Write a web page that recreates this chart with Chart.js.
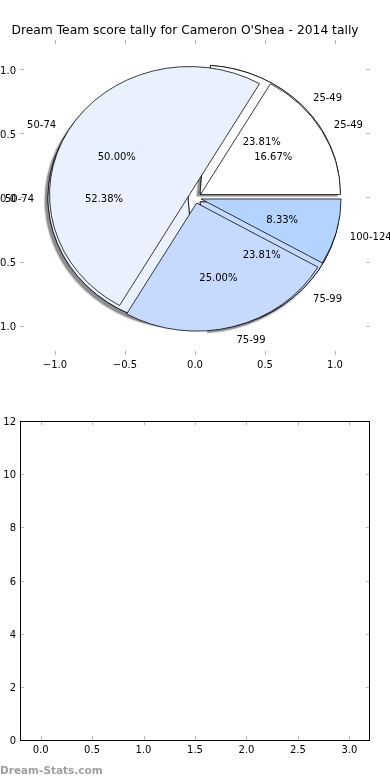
<!DOCTYPE html>
<html><head><meta charset="utf-8">
<script src="https://cdn.jsdelivr.net/npm/chart.js@4.4.1/dist/chart.umd.min.js"></script>
<style>
html,body{margin:0;padding:0;background:#fff;width:390px;height:780px;overflow:hidden}
.layer{position:absolute;left:0;top:0;width:390px;height:390px}
#wm{position:absolute;left:0;top:763px;font:bold 10.5px "DejaVu Sans",sans-serif;line-height:14px;color:#a0a0a0;white-space:nowrap}
</style></head><body>
<div style="position:absolute;left:0;top:0;width:390px;height:390px">
<canvas id="axes1" class="layer" width="390" height="390"></canvas>
<canvas id="pieB" class="layer" width="390" height="390"></canvas>
<canvas id="pieA" class="layer" width="390" height="390"></canvas>
</div>
<div style="position:absolute;left:0;top:390px;width:390px;height:390px">
<canvas id="axes2" class="layer" width="390" height="390"></canvas>
</div>
<div id="wm">Dream-Stats.com</div>
<script>
// ---------- data ----------
const chartTitle = "Dream Team score tally for Cameron O'Shea - 2014 tally";
const categoriesA = ['25-49', '50-74', '75-99', '100-124'];
const valuesA = [2, 6, 3, 1];          // 16.67% 50.00% 25.00% 8.33%
const categoriesB = ['25-49', '50-74', '75-99'];
const valuesB = [5, 11, 5];            // 23.81% 52.38% 23.81%
const pieAxisTicks = [-1.0, -0.5, 0.0, 0.5, 1.0];
const lowerXTicks = [0.0, 0.5, 1.0, 1.5, 2.0, 2.5, 3.0];
const lowerYTicks = [0, 2, 4, 6, 8, 10, 12];

// ---------- styles ----------
const colorFor = {'25-49': '#ffffff', '50-74': '#eaf1fe', '75-99': '#c6d9fe', '100-124': '#b3d4fe'};
const FONT = 'DejaVu Sans';
const TICK_COLOR = '#b5b5b5';
const TEXT_DY = 1.5;
const explodeA = 0.045, explodeB = 0.05;

const fmtSigned = v => (v < 0 ? '\u2212' : '') + Math.abs(v).toFixed(1);

const tickMarks = {
  id: 'tickMarks',
  afterDraw(chart) {
    const {ctx, chartArea: a, scales: {x, y}} = chart;
    ctx.save();
    ctx.strokeStyle = TICK_COLOR; ctx.lineWidth = 1;
    ctx.beginPath();
    x.ticks.forEach(t => {
      const px = Math.round(x.getPixelForValue(t.value)) + 0.5;
      ctx.moveTo(px, a.top); ctx.lineTo(px, a.top + 4);
      ctx.moveTo(px, a.bottom); ctx.lineTo(px, a.bottom - 4);
    });
    y.ticks.forEach(t => {
      const py = Math.round(y.getPixelForValue(t.value)) + 0.5;
      ctx.moveTo(a.left, py); ctx.lineTo(a.left + 4, py);
      ctx.moveTo(a.right, py); ctx.lineTo(a.right - 4, py);
    });
    ctx.stroke();
    ctx.restore();
  }
};
const frame = {
  id: 'frame',
  afterDraw(chart) {
    const {ctx, chartArea: a} = chart;
    ctx.save(); ctx.strokeStyle = '#000'; ctx.lineWidth = 1;
    ctx.strokeRect(Math.round(a.left) + 0.5, Math.round(a.top) + 0.5, Math.round(a.right - a.left) - 1, Math.round(a.bottom - a.top));
    ctx.restore();
  }
};

function axis(min, max, values, fmt, isY, size) {
  return {
    type: 'linear', min, max,
    afterBuildTicks: s => { s.ticks = values.map(v => ({value: v})); },
    afterFit: s => { if (isY) s.width = size; else s.height = size; },
    grid: {display: false, drawTicks: false},
    border: {display: false},
    ticks: {callback: fmt, color: '#000', font: {family: FONT, size: 10}, padding: 4, maxRotation: 0, autoSkip: false,
            labelOffset: isY ? TEXT_DY : 0}
  };
}

// ---------- top axes (frame-less pie axes) ----------
const axes1 = new Chart(document.getElementById('axes1'), {
  type: 'scatter',
  data: {datasets: [{data: []}]},
  options: {
    responsive: false, animation: false, events: [],
    layout: {padding: {right: 20}},
    scales: {
      x: axis(-1.25, 1.25, pieAxisTicks, fmtSigned, false, 35),
      y: axis(-1.23, 1.23, pieAxisTicks, fmtSigned, true, 20)
    },
    plugins: {
      legend: {display: false}, tooltip: {enabled: false},
      title: {display: true, text: chartTitle, color: '#000', font: {family: FONT, size: 12.3, weight: 'normal'}, padding: {top: 23, bottom: 2.2}}
    }
  },
  plugins: [tickMarks]
});

const xs = axes1.scales.x, ys = axes1.scales.y;
const cx = xs.getPixelForValue(0), cy = ys.getPixelForValue(0);
const R = xs.getPixelForValue(1) - cx;
const ky = (cy - ys.getPixelForValue(1)) / R;

// draws the arcs stretched to the axes' aspect, exploded along their mid angle
const pieDraw = {
  id: 'pieDraw',
  beforeDatasetDraw(chart, args, opts) {
    const ctx = chart.ctx, arcs = args.meta.data;
    const passes = opts.shadow ? ['shadow', 'fill'] : ['fill'];
    for (const pass of passes) {
      for (const arc of arcs) {
        const mid = (arc.startAngle + arc.endAngle) / 2;
        const d = opts.explode * arc.outerRadius;
        ctx.save();
        ctx.translate(arc.x, arc.y); ctx.scale(1, opts.ky); ctx.translate(-arc.x, -arc.y);
        ctx.translate(Math.cos(mid) * d, Math.sin(mid) * d);
        if (pass === 'shadow') {
          ctx.shadowColor = 'rgba(0,0,0,0.45)';
          ctx.shadowOffsetX = -3; ctx.shadowOffsetY = 3; ctx.shadowBlur = 1.5;
        }
        arc.draw(ctx);
        ctx.restore();
      }
    }
    return false;
  }
};

function pieConfig(cats, values, explode, shadow, extra) {
  const S = 165;
  return {
    type: 'pie',
    data: {
      labels: cats.slice().reverse(),
      datasets: [{
        data: values.slice().reverse(),
        backgroundColor: cats.slice().reverse().map(c => colorFor[c]),
        borderColor: '#000', borderWidth: 0.8, radius: R
      }]
    },
    options: {
      responsive: false, animation: false, events: [], rotation: 90,
      layout: {padding: {left: cx - S, right: 390 - cx - S, top: cy - S, bottom: 390 - cy - S}},
      plugins: {legend: {display: false}, tooltip: {enabled: false}, pieDraw: {ky, explode, shadow}}
    },
    plugins: [pieDraw].concat(extra || [])
  };
}

function drawPieLabels(ctx, chart, cats, values, explode) {
  const arcs = chart.getDatasetMeta(0).data;
  const total = values.reduce((a, b) => a + b, 0);
  const n = cats.length;
  ctx.save();
  ctx.font = '10px "' + FONT + '"';
  ctx.fillStyle = '#000';
  ctx.textBaseline = 'middle';
  arcs.forEach((arc, j) => {
    const i = n - 1 - j;
    const mid = (arc.startAngle + arc.endAngle) / 2;
    const c = Math.cos(mid), s = Math.sin(mid);
    const rl = (1.1 + explode) * arc.outerRadius;
    ctx.textAlign = c > 0 ? 'left' : 'right';
    ctx.fillText(cats[i], arc.x + c * rl, arc.y + s * rl * ky + TEXT_DY);
    const rp = (0.6 + explode) * arc.outerRadius;
    ctx.textAlign = 'center';
    ctx.fillText((values[i] / total * 100).toFixed(2) + '%', arc.x + c * rp, arc.y + s * rp * ky + TEXT_DY);
  });
  ctx.restore();
}

const pieB = new Chart(document.getElementById('pieB'), pieConfig(categoriesB, valuesB, explodeB, true));
const labelPlugin = {
  id: 'pieLabels',
  afterDraw(chart) {
    drawPieLabels(chart.ctx, pieB, categoriesB, valuesB, explodeB);
    drawPieLabels(chart.ctx, chart, categoriesA, valuesA, explodeA);
  }
};
const pieA = new Chart(document.getElementById('pieA'), pieConfig(categoriesA, valuesA, explodeA, false, [labelPlugin]));

// ---------- lower empty axes ----------
const axes2 = new Chart(document.getElementById('axes2'), {
  type: 'scatter',
  data: {datasets: [{data: []}]},
  options: {
    responsive: false, animation: false, events: [],
    layout: {padding: {top: 31, right: 20}},
    scales: {
      x: axis(-0.2, 3.2, lowerXTicks, v => v.toFixed(1), false, 40),
      y: axis(0, 12, lowerYTicks, v => String(v), true, 20)
    },
    plugins: {legend: {display: false}, tooltip: {enabled: false}}
  },
  plugins: [tickMarks, frame]
});
</script>
</body></html>
